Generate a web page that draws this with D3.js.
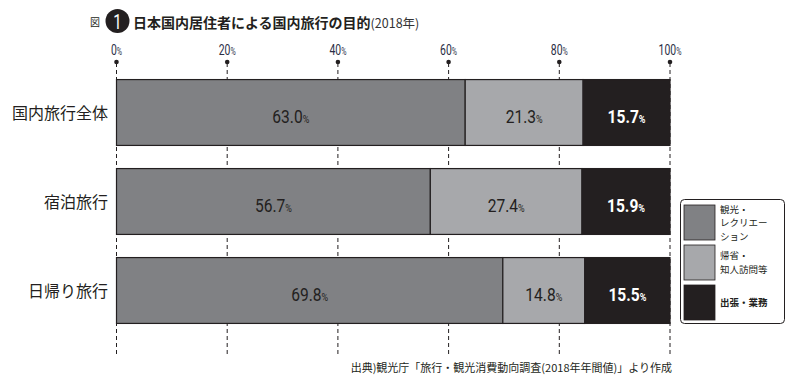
<!DOCTYPE html>
<html>
<head>
<meta charset="utf-8">
<script src="https://cdn.jsdelivr.net/npm/d3@7"></script>
<style>
  body { margin: 0; background: #fff; }
  svg { display: block; }
</style>
</head>
<body>
<svg width="798" height="384"></svg>
<script>
// データ
const groups = ["国内旅行全体", "宿泊旅行", "日帰り旅行"];
const leisure = [63.0, 56.7, 69.8];   // 観光・レクリエーション
const visit = [21.3, 27.4, 14.8];     // 帰省・知人訪問等
const business = [15.7, 15.9, 15.5];  // 出張・業務
const ticks = [0, 20, 40, 60, 80, 100];
const legendLines = [["観光・", "レクリエー", "ション"], ["帰省・", "知人訪問等"], ["出張・業務"]];

const colors = ["#808184", "#a7a8ab", "#231f20"];
const jp = "'Noto Sans CJK JP', 'Noto Sans', sans-serif";
const num = "Roboto, 'Liberation Sans', sans-serif";

const svg = d3.select("svg");

const x = d3.scaleLinear().domain([0, 100]).range([116.5, 670]);
const y = d3.scaleBand().domain(groups).range([68, 335]).paddingInner(0.26).paddingOuter(0.13);

// タイトル
svg.append("text").attr("x", 90).attr("y", 26)
  .style("font-family", jp).style("font-size", "10px").attr("fill", "#231f20").text("図");
svg.append("circle").attr("cx", 117.5).attr("cy", 21).attr("r", 12).attr("fill", "#231f20");
svg.append("text").attr("transform", "translate(117.5,28.5) scale(0.75,1)").attr("text-anchor", "middle")
  .style("font-family", num).style("font-size", "20px").attr("fill", "#fff").text("1");
const title = svg.append("text").attr("x", 133).attr("y", 28)
  .style("font-family", jp).attr("fill", "#231f20");
title.append("tspan").style("font-size", "14px").style("font-weight", "bold").text("日本国内居住者による国内旅行の目的");
title.append("tspan").style("font-size", "12.5px").attr("fill", "#333").text("(2018年)");

// 目盛り
const tickG = svg.append("g");
ticks.forEach(t => {
  const tx = x(t);
  tickG.append("line").attr("x1", tx).attr("x2", tx).attr("y1", 63).attr("y2", 354)
    .attr("stroke", "#231f20").attr("stroke-width", 1).attr("stroke-dasharray", "4,3");
  tickG.append("circle").attr("cx", tx).attr("cy", 62).attr("r", 2.3).attr("fill", "#231f20");
  const lab = tickG.append("text").attr("transform", `translate(${tx},55) scale(0.72,1)`)
    .attr("text-anchor", "middle")
    .style("font-family", num).attr("fill", "#2a2e45");
  lab.append("tspan").style("font-size", "14.5px").text(t);
  lab.append("tspan").style("font-size", "10px").text("%");
});

// 積み上げ棒
const rows = groups.map((g, i) => {
  const vals = [leisure[i], visit[i], business[i]];
  let acc = 0;
  return vals.map((v, k) => {
    const s = acc; acc += v;
    return { g, k, v, x0: s, x1: Math.min(acc, 100) };
  });
}).flat();

svg.append("g").selectAll("rect").data(rows).join("rect")
  .attr("x", d => x(d.x0))
  .attr("y", d => y(d.g))
  .attr("width", d => x(d.x1) - x(d.x0))
  .attr("height", y.bandwidth())
  .attr("fill", d => colors[d.k])
  .attr("stroke", "#231f20").attr("stroke-width", 1.2);

const vl = svg.append("g").selectAll("text").data(rows).join("text")
  .attr("transform", d => `translate(${(x(d.x0) + x(d.x1)) / 2},${y(d.g) + y.bandwidth() / 2 + 10}) scale(0.82,1)`)
  .attr("text-anchor", "middle")
  .style("font-family", num)
  .style("font-weight", d => d.k === 2 ? "bold" : "normal")
  .attr("fill", d => d.k === 2 ? "#fff" : "#231f20");
vl.append("tspan").style("font-size", "19px").text(d => d.v.toFixed(1));
vl.append("tspan").style("font-size", "11px").text("%");

// カテゴリラベル
svg.append("g").selectAll("text").data(groups).join("text")
  .attr("x", 108)
  .attr("y", d => y(d) + y.bandwidth() / 2 + 6)
  .attr("text-anchor", "end")
  .style("font-family", jp).style("font-size", "16px").attr("fill", "#231f20")
  .text(d => d);

// 凡例
const leg = svg.append("g");
leg.append("rect").attr("x", 680.5).attr("y", 199.5).attr("width", 104).attr("height", 124)
  .attr("rx", 4).attr("fill", "#fff").attr("stroke", "#231f20").attr("stroke-width", 1);
const swY = [205, 245, 285];
legendLines.forEach((lines, i) => {
  leg.append("rect").attr("x", 684).attr("y", swY[i]).attr("width", 31).attr("height", 35)
    .attr("fill", colors[i]).attr("stroke", "#231f20").attr("stroke-width", 0.8);
  const n = lines.length;
  const t = leg.append("text")
    .attr("y", swY[i] + 17.5 - (n - 1) / 2 * 13.5 + 3.5)
    .style("font-family", jp).style("font-size", "9.5px")
    .style("font-weight", i === 2 ? "bold" : "normal")
    .attr("fill", "#231f20");
  lines.forEach((s, j) => {
    t.append("tspan").attr("x", 720).attr("dy", j === 0 ? 0 : 13.5).text(s);
  });
});

// 出典
svg.append("text").attr("x", 672).attr("y", 372).attr("text-anchor", "end")
  .style("font-family", jp).style("font-size", "11px").attr("fill", "#231f20")
  .text("出典)観光庁「旅行・観光消費動向調査(2018年年間値)」より作成");
</script>
</body>
</html>
